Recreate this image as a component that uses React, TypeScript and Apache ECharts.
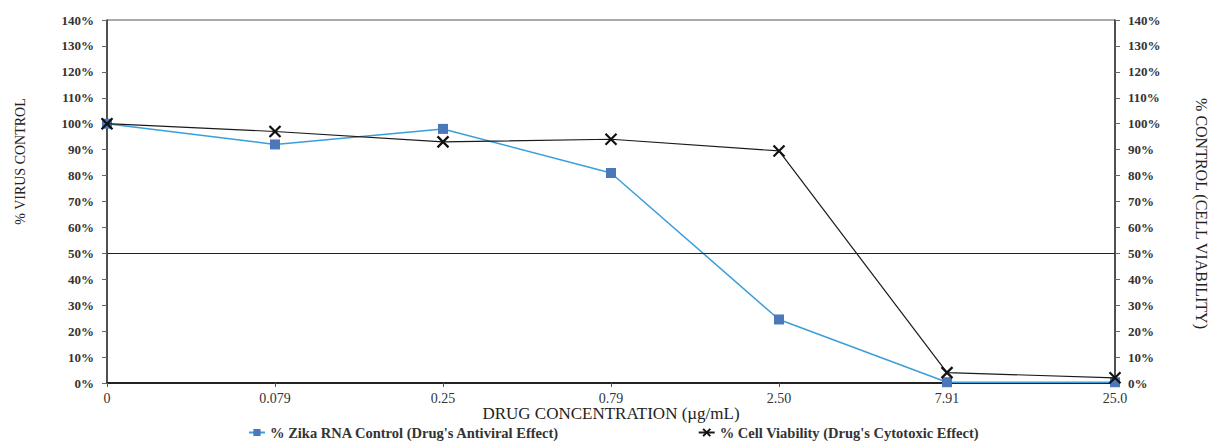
import React, { useEffect, useRef } from "react";
import * as echarts from "echarts";

const categories = ["0", "0.079", "0.25", "0.79", "2.50", "7.91", "25.0"];
const zikaRna = [100, 92, 98, 81, 24.5, 0.3, 0.3];
const cellViability = [100, 97, 93, 94, 89.5, 4, 2];
const yMin = 0;
const yMax = 140;
const yInterval = 10;

const FONT = "Liberation Serif";

export default function App() {
  const ref = useRef<HTMLDivElement>(null);
  useEffect(() => {
    if (!ref.current) return;
    const chart = echarts.init(ref.current, null, { renderer: "svg" });
    const yAxisBase = (
      position: "left" | "right",
      name: string,
      nameGap: number,
      nameSize: number,
      namePadding: number[]
    ) => ({
      type: "value",
      position,
      min: yMin,
      max: yMax,
      interval: yInterval,
      name,
      nameLocation: "middle",
      nameGap,
      nameMoveOverlap: false,
      nameRotate: position === "left" ? 90 : -90,
      nameTextStyle: { fontFamily: FONT, fontSize: nameSize, color: "#222", padding: namePadding },
      axisLine: { show: true, lineStyle: { color: "#333", width: 1.5 } },
      axisTick: { show: true, length: 5, lineStyle: { color: "#666" } },
      axisLabel: {
        formatter: "{value}%",
        fontFamily: FONT,
        fontSize: 13,
        fontWeight: "bold",
        color: "#333",
        margin: 13,
      },
      splitLine: { show: false },
    });
    chart.setOption({
      animation: false,
      backgroundColor: "#fff",
      grid: {
        left: 107,
        right: 95,
        top: 20,
        bottom: 58,
        outerBoundsMode: "none",
        containLabel: false,
        show: true,
        borderColor: "#555",
        borderWidth: 1,
      },
      legend: {
        top: 420,
        left: 243,
        itemGap: 138,
        itemWidth: 16,
        itemHeight: 9,
        textStyle: { fontFamily: FONT, fontSize: 14.5, fontWeight: "bold", color: "#333" },
        data: [
          "% Zika RNA Control (Drug's Antiviral Effect)",
          "% Cell Viability (Drug's Cytotoxic Effect)",
        ],
      },
      xAxis: {
        type: "category",
        data: categories,
        boundaryGap: false,
        name: "DRUG CONCENTRATION (µg/mL)",
        nameLocation: "middle",
        nameGap: 22,
        nameMoveOverlap: false,
        nameTextStyle: { fontFamily: FONT, fontSize: 17, color: "#222" },
        axisLine: { show: true, lineStyle: { color: "#222", width: 2 } },
        axisTick: { show: true, alignWithLabel: true, length: 4, lineStyle: { color: "#555" } },
        axisLabel: { fontFamily: FONT, fontSize: 14, color: "#333", margin: 8 },
        splitLine: { show: false },
      },
      yAxis: [
        yAxisBase("left", "% VIRUS CONTROL", 80, 14, [0, 0, 0, 80]),
        yAxisBase("right", "% CONTROL (CELL VIABILITY)", 78, 16, [0, 0, 0, 24]),
      ],
      series: [
        {
          name: "% Zika RNA Control (Drug's Antiviral Effect)",
          type: "line",
          data: zikaRna,
          yAxisIndex: 0,
          symbol: "rect",
          symbolSize: 10,
          lineStyle: { color: "#3a9edb", width: 1.5 },
          itemStyle: { color: "#4a78b8" },
          z: 3,
          markLine: {
            silent: true,
            symbol: "none",
            label: { show: false },
            lineStyle: { color: "#222", width: 1, type: "solid" },
            data: [{ yAxis: 50 }],
          },
        },
        {
          name: "% Cell Viability (Drug's Cytotoxic Effect)",
          type: "line",
          data: cellViability,
          yAxisIndex: 1,
          symbol: "path://M0,0L10,10M10,0L0,10",
          symbolSize: 11,
          lineStyle: { color: "#1a1a1a", width: 1.2 },
          itemStyle: { color: "none", borderColor: "#111", borderWidth: 2.2 },
          z: 4,
        },
      ],
    });
    return () => chart.dispose();
  }, []);
  return (
    <div
      ref={ref}
      style={{ position: "fixed", left: 0, top: 0, width: 1210, height: 441 }}
    />
  );
}
